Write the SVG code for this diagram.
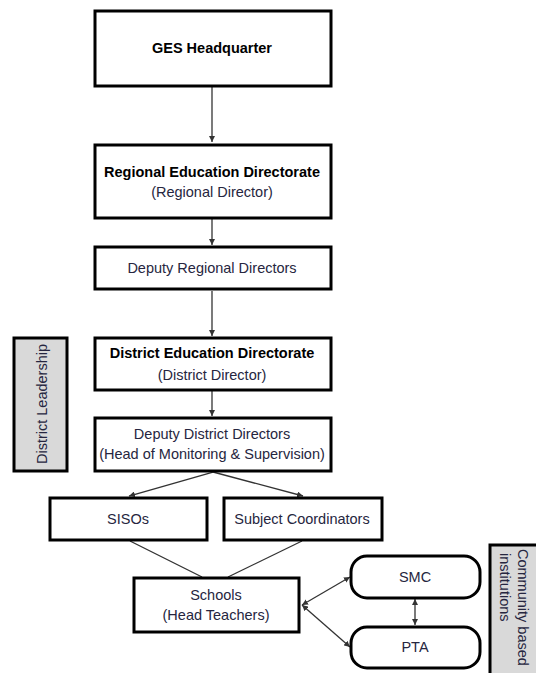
<svg xmlns="http://www.w3.org/2000/svg" width="536" height="673" viewBox="0 0 536 673">
<style>
.box{fill:#fff;stroke:#000;stroke-width:3}
.side{fill:#d9d9d9;stroke:#000;stroke-width:3}
.t{font-family:"Liberation Sans",Arial,sans-serif;font-size:14.5px;fill:#262640;text-anchor:middle}
.b{font-weight:bold;fill:#000}
.c{fill:none;stroke:#333;stroke-width:1.3}
</style>
<defs>
<marker id="ah" viewBox="0 0 10 10" refX="10" refY="5" markerWidth="6" markerHeight="6" markerUnits="userSpaceOnUse" orient="auto-start-reverse">
<path d="M0,0 L10,5 L0,10 z" fill="#333"/>
</marker>
</defs>
<rect width="536" height="673" fill="#fff"/>
<g id="connectors">
<line class="c" x1="212" y1="87" x2="212" y2="142" marker-end="url(#ah)"/>
<line class="c" x1="212" y1="219" x2="212" y2="245" marker-end="url(#ah)"/>
<line class="c" x1="212" y1="291" x2="212" y2="336" marker-end="url(#ah)"/>
<line class="c" x1="212" y1="391" x2="212" y2="416" marker-end="url(#ah)"/>
<line class="c" x1="213" y1="472" x2="129" y2="496" marker-end="url(#ah)"/>
<line class="c" x1="213" y1="472" x2="303" y2="496" marker-end="url(#ah)"/>
<line class="c" x1="130" y1="541" x2="202" y2="577"/>
<line class="c" x1="302" y1="541" x2="228" y2="577"/>
<line class="c" x1="302" y1="605" x2="350" y2="577" marker-start="url(#ah)" marker-end="url(#ah)"/>
<line class="c" x1="302" y1="605" x2="350" y2="647" marker-start="url(#ah)" marker-end="url(#ah)"/>
<line class="c" x1="415" y1="599" x2="415" y2="625" marker-start="url(#ah)" marker-end="url(#ah)"/>
</g>
<g id="ges">
<rect class="box" x="95" y="11" width="236" height="75"/>
<text class="t b" x="212" y="53">GES Headquarter</text>
</g>
<g id="regional">
<rect class="box" x="95" y="145" width="236" height="73"/>
<text class="t b" x="212" y="177">Regional Education Directorate</text>
<text class="t" x="212" y="197">(Regional Director)</text>
</g>
<g id="deputy-regional">
<rect class="box" x="95" y="247" width="236" height="42"/>
<text class="t" x="212" y="273">Deputy Regional Directors</text>
</g>
<g id="district">
<rect class="box" x="95" y="338" width="236" height="52"/>
<text class="t b" x="212" y="358">District Education Directorate</text>
<text class="t" x="212" y="380">(District Director)</text>
</g>
<g id="deputy-district">
<rect class="box" x="95" y="418" width="236" height="53"/>
<text class="t" x="212" y="439">Deputy District Directors</text>
<text class="t" x="212" y="459">(Head of Monitoring &amp; Supervision)</text>
</g>
<g id="sisos">
<rect class="box" x="50" y="498" width="157" height="42"/>
<text class="t" x="128" y="524">SISOs</text>
</g>
<g id="subject">
<rect class="box" x="224" y="498" width="158" height="42"/>
<text class="t" x="302" y="524">Subject Coordinators</text>
</g>
<g id="schools">
<rect class="box" x="134" y="578" width="165" height="54"/>
<text class="t" x="216" y="600">Schools</text>
<text class="t" x="216" y="620">(Head Teachers)</text>
</g>
<g id="smc">
<rect class="box" x="351" y="556" width="129" height="42" rx="16"/>
<text class="t" x="415" y="582">SMC</text>
</g>
<g id="pta">
<rect class="box" x="351" y="627" width="129" height="41" rx="16"/>
<text class="t" x="415" y="652">PTA</text>
</g>
<g id="district-leadership">
<rect class="side" x="14" y="338" width="53" height="133"/>
<text class="t" transform="translate(47,404) rotate(-90)">District Leadership</text>
</g>
<g id="community">
<rect class="side" x="490" y="545" width="50" height="132"/>
<text class="t" style="text-anchor:start" transform="translate(518,549) rotate(90)">Community based</text>
<text class="t" style="text-anchor:start" transform="translate(500,553) rotate(90)">institutions</text>
</g>
</svg>
